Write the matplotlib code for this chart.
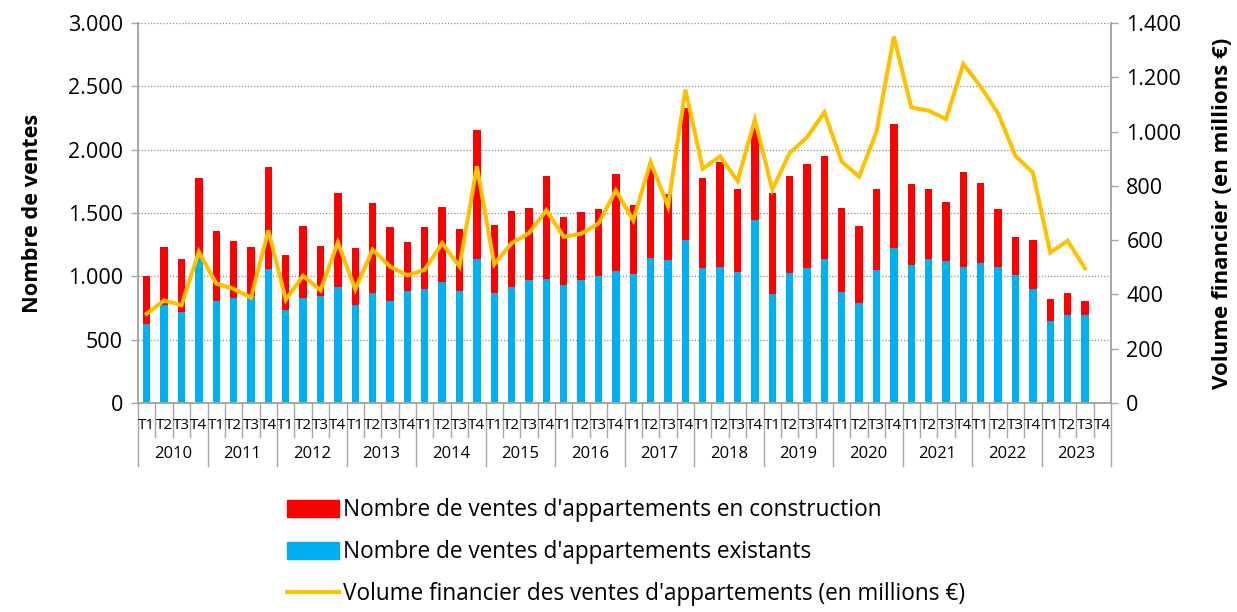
import numpy as np
import matplotlib.pyplot as plt
from matplotlib.ticker import FuncFormatter, MultipleLocator
from matplotlib.patches import Patch
from matplotlib.lines import Line2D

plt.rcParams['font.family'] = ['Open Sans', 'DejaVu Sans']

years = [str(y) for y in range(2010, 2024)]
quarters = ["T1", "T2", "T3", "T4"]

# ventes d'appartements existants (bas des barres), 2010 T1 .. 2023 T3
existants = [621, 771, 716, 1153, 805, 832, 845, 1058, 732, 829, 842, 913,
             771, 871, 803, 884, 897, 953, 884, 1137, 866, 913, 974, 979,
             934, 971, 1005, 1040, 1016, 1148, 1126, 1287, 1069, 1074, 1034, 1448,
             858, 1029, 1066, 1137, 874, 790, 1053, 1227, 1087, 1134, 1121, 1071,
             1105, 1071, 1013, 903, 650, 697, 692]
# total des ventes (haut des barres)
totaux = [1005, 1234, 1140, 1777, 1358, 1276, 1234, 1866, 1171, 1398, 1242, 1655,
          1224, 1577, 1387, 1274, 1392, 1550, 1374, 2153, 1408, 1516, 1540, 1795,
          1466, 1511, 1534, 1811, 1563, 1863, 1648, 2332, 1774, 1903, 1692, 2171,
          1655, 1795, 1890, 1950, 1537, 1398, 1692, 2203, 1727, 1692, 1587, 1821,
          1737, 1532, 1308, 1290, 824, 866, 805]
# volume financier en millions €
volume = [329, 378, 360, 557, 440, 421, 388, 636, 381, 469, 415, 592,
          419, 565, 503, 470, 491, 589, 503, 872, 511, 589, 626, 710,
          612, 624, 661, 783, 673, 888, 724, 1155, 863, 909, 818, 1044,
          786, 921, 979, 1071, 889, 834, 1000, 1350, 1089, 1077, 1046, 1249,
          1165, 1067, 910, 849, 554, 598, 496]

construction = [t - e for t, e in zip(totaux, existants)]
n_slots = len(years) * len(quarters)
x = np.arange(len(existants)) + 0.5

RED = "#FF0000"
BLUE = "#00B0F0"
GOLD = "#FFC000"
GREY = "#A6A6A6"

fig = plt.figure(figsize=(12.37, 6.12), dpi=100)
ax = fig.add_axes([0.1116, 0.3415, 0.7866, 0.6209])
ax2 = ax.twinx()

ax.bar(x, existants, width=0.42, color=BLUE, zorder=2)
ax.bar(x, construction, width=0.42, bottom=existants, color=RED, zorder=2)
ax2.plot(x, volume, color=GOLD, lw=2.9, solid_joinstyle="miter", zorder=3)

ax.set_xlim(0, n_slots)
ax.set_ylim(0, 3000)
ax2.set_ylim(0, 1400)
ax.yaxis.set_major_locator(MultipleLocator(500))
ax2.yaxis.set_major_locator(MultipleLocator(200))
fmt = FuncFormatter(lambda v, p: f"{int(v):,}".replace(",", "."))
ax.yaxis.set_major_formatter(fmt)
ax2.yaxis.set_major_formatter(fmt)

ax.grid(axis="y", color="#8C8C8C", linestyle=(0, (1, 1.5)), lw=0.9, zorder=0)
for a in (ax, ax2):
    a.spines["top"].set_visible(False)
    for s in ("left", "right", "bottom"):
        a.spines[s].set_color(GREY)
        a.spines[s].set_linewidth(1.2)
    a.tick_params(axis="y", colors="black", labelsize=15.5, length=5, width=1, color=GREY, pad=6)
ax.tick_params(axis="x", length=0, labelbottom=False)
ax2.tick_params(axis="x", length=0, labelbottom=False)

ax.set_ylabel("Nombre de ventes", fontsize=15.7, fontweight="bold", labelpad=18)
ax2.set_ylabel("Volume financier (en millions €)", fontsize=16, fontweight="bold", labelpad=22)

# two-level category axis: quarters then years
trans = ax.get_xaxis_transform()
for i in range(n_slots + 1):
    depth = -0.165 if i % 4 == 0 else -0.09
    ax.plot([i, i], [0, depth], color=GREY, lw=1, transform=trans, clip_on=False)
for i in range(n_slots):
    ax.text(i + 0.5, -0.058, quarters[i % 4], transform=trans, ha="center", va="center", fontsize=11)
for j, yr in enumerate(years):
    ax.text(j * 4 + 2, -0.133, yr, transform=trans, ha="center", va="center", fontsize=12)

handles = [Patch(color=RED), Patch(color=BLUE), Line2D([], [], color=GOLD, lw=2.9)]
labels = ["Nombre de ventes d'appartements en construction",
          "Nombre de ventes d'appartements existants",
          "Volume financier des ventes d'appartements (en millions €)"]
fig.legend(handles, labels, loc="upper left", bbox_to_anchor=(0.232, 0.186),
           frameon=False, fontsize=16.3, handlelength=2.3, handleheight=0.75,
           handletextpad=0.18, labelspacing=0.8, borderpad=0, borderaxespad=0)

fig.savefig("out.png", dpi=100)
